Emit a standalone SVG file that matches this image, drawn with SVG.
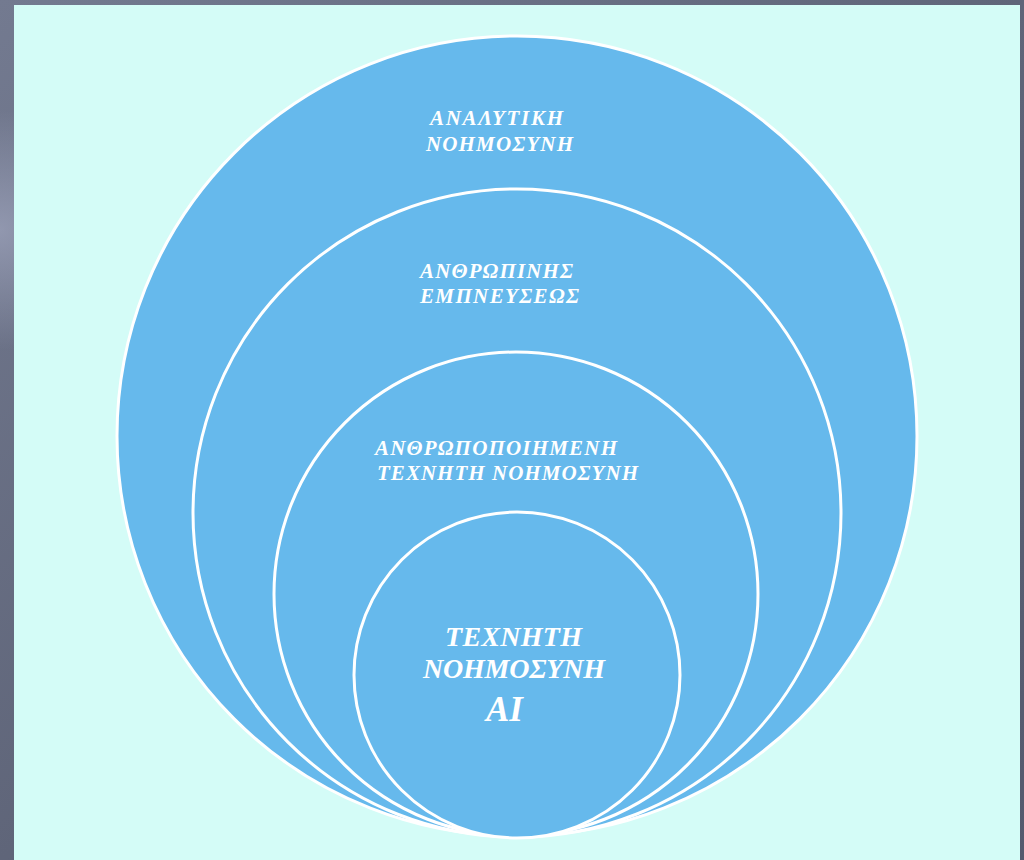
<svg xmlns="http://www.w3.org/2000/svg" width="1024" height="860" viewBox="0 0 1024 860">
  <defs>
    <linearGradient id="bg" x1="0" y1="0" x2="1" y2="1">
      <stop offset="0" stop-color="#737a90"/>
      <stop offset="0.5" stop-color="#5f6579"/>
      <stop offset="1" stop-color="#545a6e"/>
    </linearGradient>
    <radialGradient id="glow" cx="0" cy="230" r="120" gradientUnits="userSpaceOnUse">
      <stop offset="0" stop-color="#9aa0b8" stop-opacity="0.8"/>
      <stop offset="1" stop-color="#9aa0b8" stop-opacity="0"/>
    </radialGradient>
  </defs>
  <style>
    .ring { fill: #66b9ec; stroke: #ffffff; stroke-width: 3; }
    .lbl { font-family: "Liberation Serif", "Times New Roman", serif; font-weight: bold; font-style: italic; fill: #ffffff; }
    .sm { font-size: 21px; }
    .lg { font-size: 28px; }
    .xl { font-size: 35px; }
  </style>

  <!-- backdrop and panel -->
  <rect x="0" y="0" width="1024" height="860" fill="url(#bg)"/>
  <rect x="0" y="100" width="14" height="260" fill="url(#glow)"/>
  <rect x="14" y="5" width="1006" height="855" fill="#d4fcf7"/>

  <!-- nested circles, outermost first -->
  <g id="analytiki">
    <circle class="ring" cx="517" cy="436" r="400"/>
    <text class="lbl sm" x="430" y="125" textLength="133" lengthAdjust="spacing">ΑΝΑΛΥΤΙΚΗ</text>
    <text class="lbl sm" x="426" y="151" textLength="147" lengthAdjust="spacing">ΝΟΗΜΟΣΥΝΗ</text>
  </g>
  <g id="anthropinis">
    <circle class="ring" cx="517" cy="513" r="324"/>
    <text class="lbl sm" x="420" y="278" textLength="153" lengthAdjust="spacing">ΑΝΘΡΩΠΙΝΗΣ</text>
    <text class="lbl sm" x="420" y="303" textLength="159" lengthAdjust="spacing">ΕΜΠΝΕΥΣΕΩΣ</text>
  </g>
  <g id="anthropopoiimeni">
    <circle class="ring" cx="516" cy="594" r="242"/>
    <text class="lbl sm" x="375" y="455" textLength="242" lengthAdjust="spacing">ΑΝΘΡΩΠΟΠΟΙΗΜΕΝΗ</text>
    <text class="lbl sm" x="377" y="480" textLength="261" lengthAdjust="spacing">ΤΕΧΝΗΤΗ ΝΟΗΜΟΣΥΝΗ</text>
  </g>
  <g id="ai">
    <circle class="ring" cx="517" cy="675" r="163"/>
    <text class="lbl lg" x="445" y="646" textLength="137" lengthAdjust="spacing">ΤΕΧΝΗΤΗ</text>
    <text class="lbl lg" x="423" y="678" textLength="182" lengthAdjust="spacing">ΝΟΗΜΟΣΥΝΗ</text>
    <text class="lbl xl" x="486" y="721">AI</text>
  </g>
</svg>
